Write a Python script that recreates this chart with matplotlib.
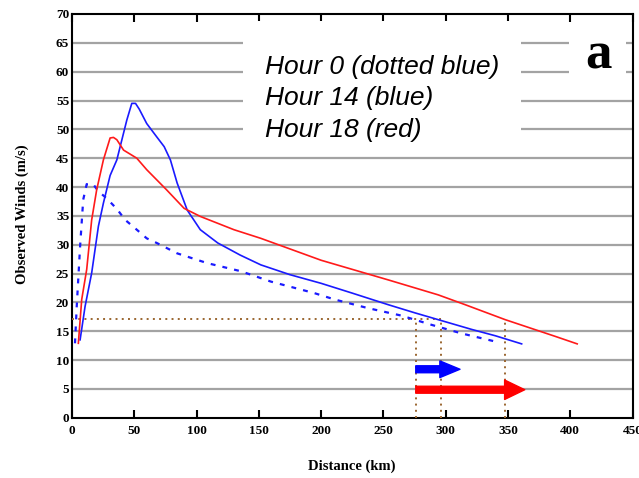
import matplotlib
matplotlib.use("Agg")
import matplotlib.pyplot as plt
from matplotlib.patches import Rectangle

# ---- data ----
hour0_x = [2.4, 3.8, 6.5, 9, 11.8, 17, 21, 28, 36, 42.7, 52, 60, 68, 84.4, 108.6,
           135.5, 159.7, 194.6, 210.8, 237.6, 264.5, 288.7, 313, 340]
hour0_y = [12.9, 19.3, 29.7, 37.8, 40.5, 40.5, 39.3, 38.0, 36.2, 34.3, 32.6, 31.1, 30.3,
           28.5, 26.8, 25.4, 23.6, 21.6, 20.5, 19.0, 17.7, 16.1, 14.6, 13.2]

hour14_x = [6.5, 10.5, 15.8, 21.2, 25.2, 30.6, 36, 44, 48, 51, 54, 60, 68, 74, 79, 84.4,
            92.5, 103, 117, 135, 151.6, 175, 200, 225, 253.8, 275, 294, 321, 340, 361]
hour14_y = [13.5, 19.3, 25.1, 33.2, 37.2, 42.0, 44.7, 51.6, 54.5, 54.5, 53.5, 51.0, 48.7,
            47.0, 44.7, 40.7, 36.0, 32.6, 30.3, 28.2, 26.5, 24.8, 23.3, 21.6, 19.6, 18.2,
            17.0, 15.3, 14.2, 12.8]

hour18_x = [5.1, 7.8, 11.8, 15.8, 19.8, 25.2, 30.6, 33.3, 36, 41.4, 52, 60, 76, 90, 103,
            130, 151.6, 200, 253.8, 294, 315.6, 347.8, 388, 405.6]
hour18_y = [12.9, 20.5, 25.7, 34.3, 39.5, 44.7, 48.5, 48.6, 48.2, 46.4, 45.0, 43.0, 39.5,
            36.3, 34.9, 32.6, 31.1, 27.3, 23.9, 21.3, 19.6, 17.0, 14.1, 12.8]

threshold = 17.2
cross_x = [276, 296, 348]          # where the curves cross the threshold
arrow_ends = [311.5, 363.5]        # blue and red arrow tips
arrow_levels = [8.4, 4.85]

grid_levels = list(range(5, 70, 5))
x_ticks = list(range(0, 451, 50))
y_ticks = list(range(0, 71, 5))
legend_lines = ["Hour 0 (dotted blue)", "Hour 14 (blue)", "Hour 18 (red)"]

W, H = 639, 478
fig = plt.figure(figsize=(W / 100, H / 100), dpi=100)
ax = fig.add_axes([72 / W, 1 - 417.7 / H, (632.5 - 72) / W, (417.7 - 14) / H])
ax.set_xlim(0, 450)
ax.set_ylim(0, 70)

grid_col = "#a3a3a3"
for g in grid_levels:
    ax.axhline(g, color=grid_col, lw=1.6, zorder=1)

# white boxes behind the legend text and the panel letter
ax.add_patch(Rectangle((137.3, 47.2), 360.3 - 137.3, 21.5, facecolor="white",
                       edgecolor="none", zorder=2))
ax.add_patch(Rectangle((399.2, 57.5), 444.8 - 399.2, 10.5, facecolor="white",
                       edgecolor="none", zorder=2))

brown = "#9a6630"
ax.plot([0, cross_x[1]], [threshold, threshold], color=brown, lw=1.4,
        linestyle=(0, (1, 2.2)), zorder=3)
for cx in cross_x:
    ax.plot([cx, cx], [0, threshold], color=brown, lw=1.4,
            linestyle=(0, (1, 2.2)), zorder=3)

ax.plot(hour0_x, hour0_y, color="#1a1aff", lw=1.6, linestyle=(0, (2.2, 3.2)), zorder=4)
ax.plot(hour14_x, hour14_y, color="#1a1aff", lw=1.2, zorder=4)
ax.plot(hour18_x, hour18_y, color="#ff1a1a", lw=1.2, zorder=4)

for tip, lev, col, hw in [(arrow_ends[0], arrow_levels[0], "#0000ff", 1.2),
                          (arrow_ends[1], arrow_levels[1], "#ff0000", 1.4)]:
    ax.annotate("", xy=(tip, lev), xytext=(cross_x[0], lev),
                arrowprops=dict(arrowstyle=f"simple,head_length=1.45,head_width={hw},tail_width=0.5",
                                color=col, mutation_scale=10, shrinkA=0, shrinkB=0),
                zorder=5)

for txt, yb in zip(legend_lines, [59.6, 54.2, 48.75]):
    ax.text(154.8, yb, txt, fontsize=19, style="italic", family="Liberation Sans",
            va="baseline", ha="left", zorder=6)
ax.text(422.5, 60.5, "a", fontsize=38, fontweight="bold", family="Liberation Serif",
        va="baseline", ha="center", zorder=6)

for s in ax.spines.values():
    s.set_linewidth(1.5)
ax.set_xticks(x_ticks)
ax.set_yticks(y_ticks)
ax.tick_params(axis="x", which="both", direction="in", length=6, width=1.5,
               top=True, bottom=True, pad=5)
ax.tick_params(axis="y", direction="in", length=0, pad=2)
for lab in ax.get_xticklabels() + ax.get_yticklabels():
    lab.set_fontfamily("Liberation Serif")
    lab.set_fontweight("bold")
    lab.set_fontsize(9.5)

fig.text(352 / W, 1 - 466.7 / H, "Distance (km)", family="Liberation Serif",
         fontweight="bold", fontsize=10.5, ha="center", va="center")
fig.text(22 / W, 1 - 214 / H, "Observed Winds (m/s)", family="Liberation Serif",
         fontweight="bold", fontsize=10.5, ha="center", va="center", rotation=90)

fig.savefig("out.png", dpi=100)
